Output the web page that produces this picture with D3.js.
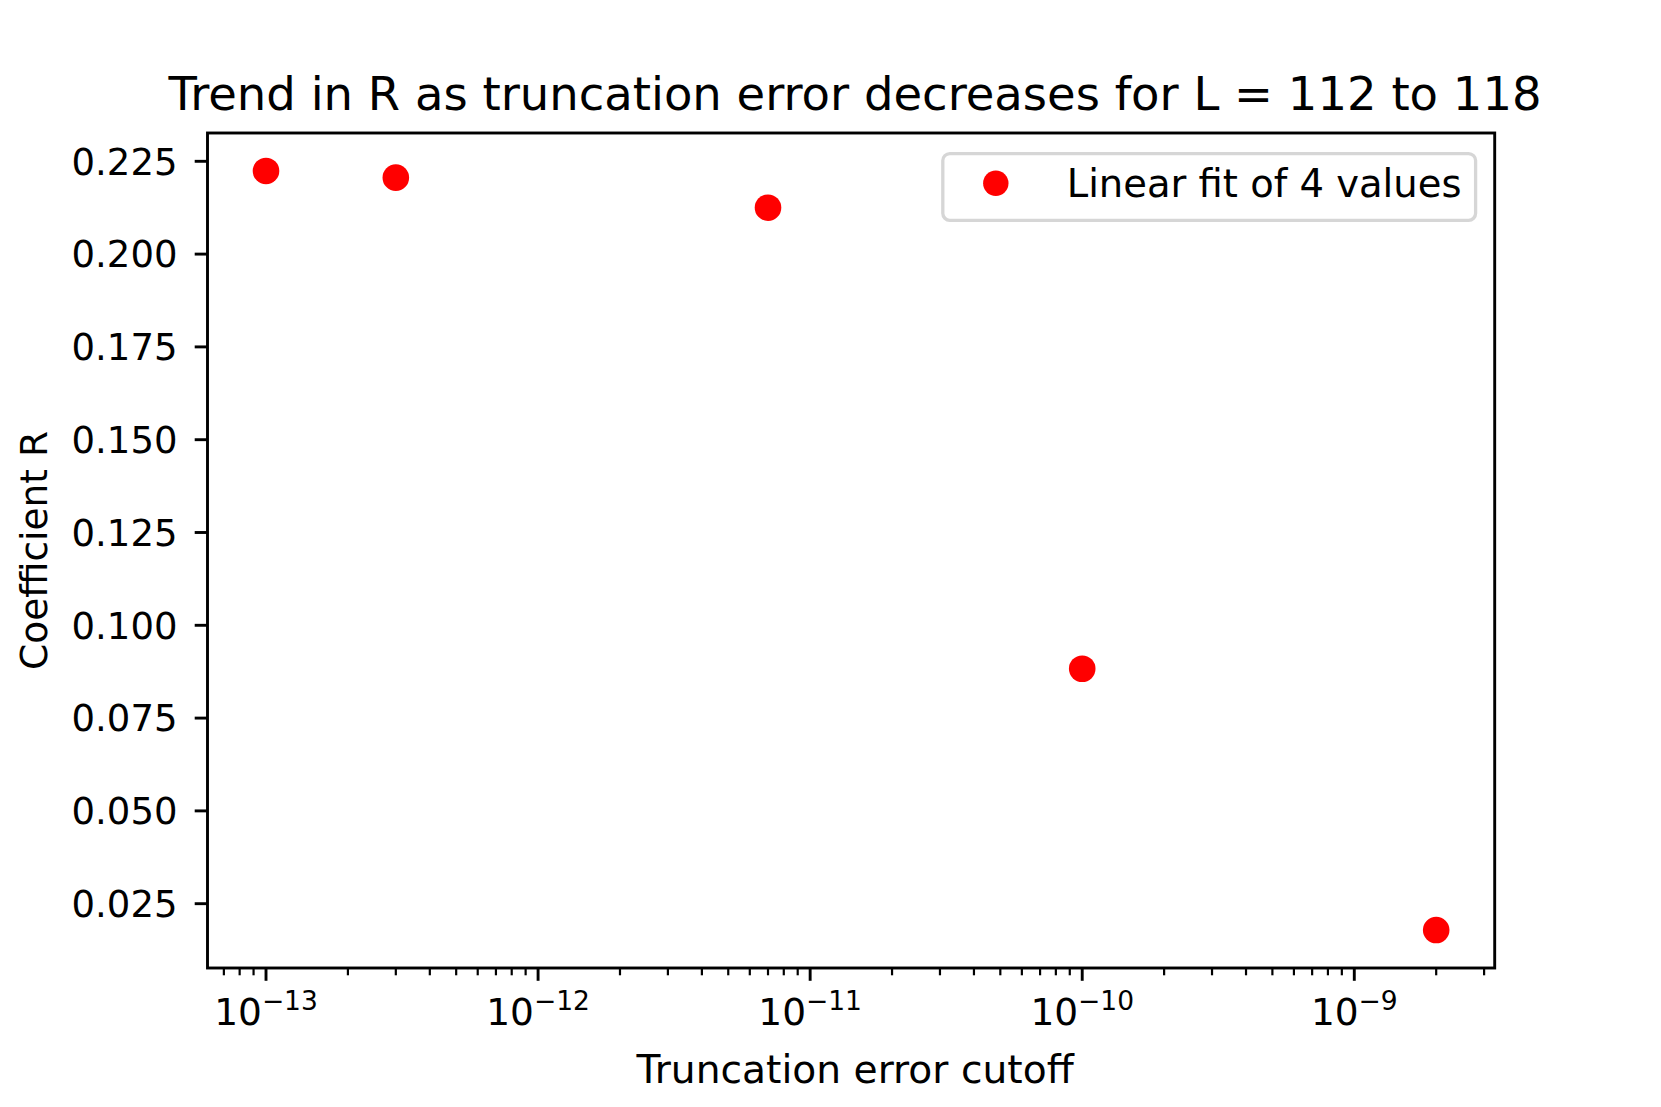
<!DOCTYPE html>
<html>
<head>
<meta charset="utf-8">
<script src="https://cdn.jsdelivr.net/npm/d3@7"></script>
<style>
  body { margin: 0; background: #fff; }
  svg text { font-family: "DejaVu Sans", sans-serif; fill: #000; }
</style>
</head>
<body>
<div id="main"></div>
<script>
// data
var cutoffs = [1e-13, 3e-13, 7e-12, 1e-10, 2e-9];
var coeffR = [0.2224, 0.2206, 0.2125, 0.0883, 0.0179];
var yTicks = [0.025, 0.05, 0.075, 0.1, 0.125, 0.15, 0.175, 0.2, 0.225];
var xDecades = [-13, -12, -11, -10, -9];

var titleText = "Trend in R as truncation error decreases for L = 112 to 118";
var xLabelText = "Truncation error cutoff";
var yLabelText = "Coefficient R";
var legendText = "Linear fit of 4 values";

var CONFIG = {
  width: 1661,
  height: 1107,
  margin: { top: 133, right: 166.3, bottom: 139, left: 207.5 },
  radius: 13.3
};

var width = CONFIG.width - CONFIG.margin.left - CONFIG.margin.right;
var height = CONFIG.height - CONFIG.margin.top - CONFIG.margin.bottom;

var data = cutoffs.map((c, i) => ({ cutoff: c, r: coeffR[i] }));

// matplotlib style 5% margins (log space for x)
var lx = d3.extent(cutoffs, d => Math.log10(d));
var lpad = (lx[1] - lx[0]) * 0.05;
var xScale = d3.scaleLog()
  .domain([Math.pow(10, lx[0] - lpad), Math.pow(10, lx[1] + lpad)])
  .range([0, width]);

var ey = d3.extent(coeffR);
var ypad = (ey[1] - ey[0]) * 0.05;
var yScale = d3.scaleLinear()
  .domain([ey[0] - ypad, ey[1] + ypad])
  .range([height, 0]);

var mainSVG = d3.select("#main")
  .append("svg")
  .attr("width", CONFIG.width)
  .attr("height", CONFIG.height);

var g = mainSVG.append("g")
  .attr("transform", "translate(" + CONFIG.margin.left + "," + CONFIG.margin.top + ")");

// minor ticks on log axis
var minorTicks = [];
var d0 = Math.floor(Math.log10(xScale.domain()[0]));
var d1 = Math.ceil(Math.log10(xScale.domain()[1]));
for (var e = d0; e <= d1; e++) {
  for (var m = 2; m <= 9; m++) {
    var v = m * Math.pow(10, e);
    if (v >= xScale.domain()[0] && v <= xScale.domain()[1]) minorTicks.push(v);
  }
}

g.append("g")
  .selectAll("line")
  .data(minorTicks)
  .enter().append("line")
  .attr("x1", d => xScale(d))
  .attr("x2", d => xScale(d))
  .attr("y1", height)
  .attr("y2", height + 7.3)
  .attr("stroke", "#000")
  .attr("stroke-width", 2.2);

// major x ticks
var xMajor = g.append("g")
  .selectAll("g")
  .data(xDecades)
  .enter().append("g")
  .attr("transform", d => "translate(" + xScale(Math.pow(10, d)) + ",0)");

xMajor.append("line")
  .attr("y1", height)
  .attr("y2", height + 12.8)
  .attr("stroke", "#000")
  .attr("stroke-width", 2.9);

var xLab = xMajor.append("text")
  .attr("y", height + 57)
  .attr("text-anchor", "middle")
  .style("font-size", "37.5px");
xLab.append("tspan").text("10");
xLab.append("tspan")
  .attr("dy", -15)
  .style("font-size", "26.5px")
  .text(d => "\u2212" + Math.abs(d));

// y ticks
var yTick = g.append("g")
  .selectAll("g")
  .data(yTicks)
  .enter().append("g")
  .attr("transform", d => "translate(0," + yScale(d) + ")");

yTick.append("line")
  .attr("x1", -12.8)
  .attr("x2", 0)
  .attr("stroke", "#000")
  .attr("stroke-width", 2.9);

yTick.append("text")
  .attr("x", -30)
  .attr("dy", "0.36em")
  .attr("text-anchor", "end")
  .style("font-size", "37px")
  .text(d => d3.format(".3f")(d));

// points
g.append("g")
  .selectAll("circle")
  .data(data)
  .enter().append("circle")
  .attr("cx", d => xScale(d.cutoff))
  .attr("cy", d => yScale(d.r))
  .attr("r", CONFIG.radius)
  .attr("fill", "#ff0000");

// frame
g.append("rect")
  .attr("width", width)
  .attr("height", height)
  .attr("fill", "none")
  .attr("stroke", "#000")
  .attr("stroke-width", 2.9);

// legend
var legend = g.append("g")
  .attr("transform", "translate(" + (942.8 - CONFIG.margin.left) + "," + (153.6 - CONFIG.margin.top) + ")");

legend.append("rect")
  .attr("width", 532.8)
  .attr("height", 66.7)
  .attr("rx", 7)
  .attr("fill", "#fff")
  .attr("fill-opacity", 0.8)
  .attr("stroke", "#d6d6d6")
  .attr("stroke-width", 3.3);

legend.append("circle")
  .attr("cx", 53)
  .attr("cy", 29.7)
  .attr("r", 12.7)
  .attr("fill", "#ff0000");

legend.append("text")
  .attr("x", 123.9)
  .attr("y", 43)
  .style("font-size", "38.5px")
  .text(legendText);

// title + axis labels
mainSVG.append("text")
  .attr("x", CONFIG.margin.left + width / 2 + 4)
  .attr("y", 110)
  .attr("text-anchor", "middle")
  .style("font-size", "46.5px")
  .text(titleText);

mainSVG.append("text")
  .attr("x", CONFIG.margin.left + width / 2 + 4)
  .attr("y", 1083)
  .attr("text-anchor", "middle")
  .style("font-size", "39.2px")
  .text(xLabelText);

mainSVG.append("text")
  .attr("transform", "translate(47," + (CONFIG.margin.top + height / 2) + ") rotate(-90)")
  .attr("text-anchor", "middle")
  .style("font-size", "37.5px")
  .text(yLabelText);
</script>
</body>
</html>
